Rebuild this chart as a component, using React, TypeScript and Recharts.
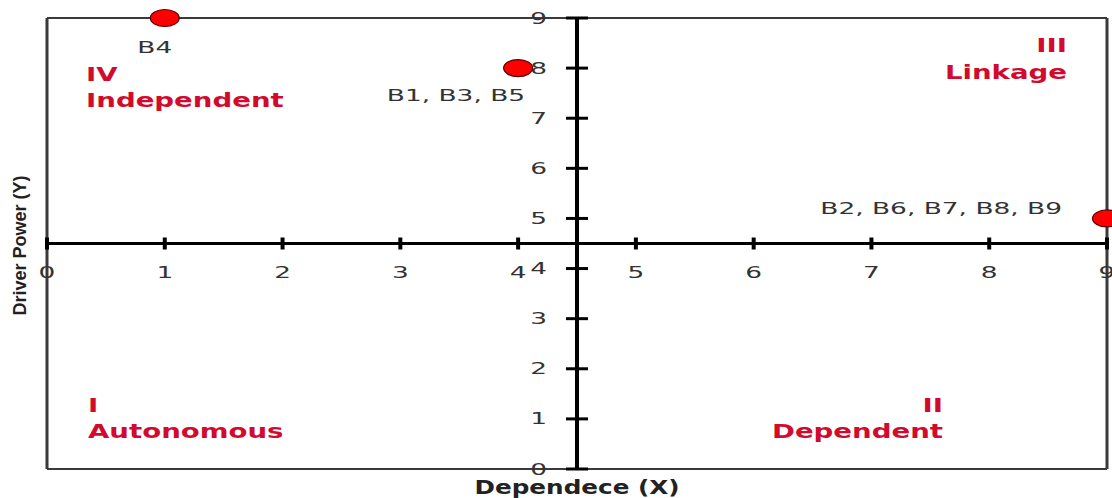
import { ReferenceArea, ReferenceDot, ReferenceLine, Scatter, ScatterChart, XAxis, YAxis } from 'recharts';

const pointLabels = ['B4', 'B1, B3, B5', 'B2, B6, B7, B8, B9'];
const dependence = [1, 4, 9];
const drivingPower = [9, 8, 5];

const axisTicks = [0, 1, 2, 3, 4, 5, 6, 7, 8, 9];
const axisCross = 4.5;

const quadrantNumerals = ['I', 'II', 'III', 'IV'];
const quadrantNames = ['Autonomous', 'Dependent', 'Linkage', 'Independent'];
const quadrantX = [[0, 4.5], [4.5, 9], [4.5, 9], [0, 4.5]];
const quadrantY = [[0, 4.5], [0, 4.5], [4.5, 9], [4.5, 9]];

const points = pointLabels.map((label, i) => ({ x: dependence[i], y: drivingPower[i], label }));

const SANS = 'DejaVu Sans, Verdana, sans-serif';
const INK = '#333';
const RED = '#d20a2e';

// offsets (px) of each point's caption from its marker
const labelPlacement = [
  { dx: -10, dy: 35, anchor: 'middle' },
  { dx: 7, dy: 33, anchor: 'end' },
  { dx: -45, dy: -4, anchor: 'end' },
];

// quadrant captions, measured from the quadrant box edges
const quadrantPlacement = [
  { anchor: 'start', dx: 41, fromTop: false, dy: [-57, -31] },
  { anchor: 'end', dx: -164, fromTop: false, dy: [-57, -31] },
  { anchor: 'end', dx: -40, fromTop: true, dy: [34, 61] },
  { anchor: 'start', dx: 39, fromTop: true, dy: [63, 89] },
];

function WideText({ x, y, children, size = 15, bold = false, anchor = 'middle', stretch = 1.76, color = INK, family = SANS }: any) {
  return (
    <text
      transform={`translate(${x} ${y}) scale(${stretch} 1)`}
      textAnchor={anchor}
      fontSize={size}
      fontWeight={bold ? 700 : 400}
      fontFamily={family}
      fill={color}
    >
      {children}
    </text>
  );
}

function Marker(props: any) {
  const { cx, cy, payload } = props;
  const p = labelPlacement[pointLabels.indexOf(payload.label)];
  return (
    <g>
      <ellipse cx={cx} cy={cy} rx={14.5} ry={8.5} fill="#ff0000" stroke="#5a0000" strokeWidth={1.2} />
      <WideText x={cx + p.dx} y={cy + p.dy} anchor={p.anchor}>
        {payload.label}
      </WideText>
    </g>
  );
}

function XTickMark({ cx, cy, value }: any) {
  return (
    <g>
      <line x1={cx} x2={cx} y1={cy - 6} y2={cy + 6} stroke="#000" strokeWidth={4} />
      <WideText x={cx} y={cy + 34}>{value}</WideText>
    </g>
  );
}

function YTickMark({ cx, cy, value }: any) {
  return (
    <g>
      <line x1={cx - 11} x2={cx + 11} y1={cy} y2={cy} stroke="#000" strokeWidth={3} />
      <WideText x={cx - 30} y={cy + 5.5} anchor="end">{value}</WideText>
    </g>
  );
}

function QuadrantCaption({ viewBox, index }: any) {
  const { x, y, width, height } = viewBox;
  const p = quadrantPlacement[index];
  const left = p.anchor === 'start' ? x + p.dx : x + width + p.dx;
  const base = p.fromTop ? y : y + height;
  return (
    <g>
      <WideText x={left} y={base + p.dy[0]} anchor={p.anchor} size={20} bold stretch={1.38} color={RED}>
        {quadrantNumerals[index]}
      </WideText>
      <WideText x={left} y={base + p.dy[1]} anchor={p.anchor} size={20} bold stretch={1.38} color={RED}>
        {quadrantNames[index]}
      </WideText>
    </g>
  );
}

function XTitle({ viewBox }: any) {
  const { x, y, width } = viewBox;
  return (
    <WideText x={x + width / 2} y={y + 25} size={19} bold stretch={1.3} color="#222">
      Dependece (X)
    </WideText>
  );
}

function YTitle({ viewBox }: any) {
  const { x, y, height } = viewBox;
  const cx = x + 26;
  const cy = y + height / 2 + 2;
  return (
    <text
      x={cx}
      y={cy}
      transform={`rotate(-90 ${cx} ${cy})`}
      textAnchor="middle"
      fontSize={18}
      fontWeight={700}
      fontFamily="Liberation Sans, Arial, sans-serif"
      fill="#222"
    >
      Driver Power (Y)
    </text>
  );
}

export default function App() {
  return (
    <div style={{ position: 'absolute', left: 0, top: 0, background: '#fff' }}>
      <ScatterChart width={1112} height={498} margin={{ top: 18, right: 5, bottom: 0, left: 0 }}>
        <XAxis
          type="number"
          dataKey="x"
          domain={[0, 9]}
          ticks={axisTicks}
          height={29}
          tick={false}
          axisLine={false}
          tickLine={false}
          label={<XTitle />}
        />
        <YAxis
          type="number"
          dataKey="y"
          domain={[0, 9]}
          ticks={axisTicks}
          width={47}
          tick={false}
          axisLine={false}
          tickLine={false}
          label={<YTitle />}
        />

        {quadrantNames.map((name, i) => (
          <ReferenceArea
            key={name}
            x1={quadrantX[i][0]}
            x2={quadrantX[i][1]}
            y1={quadrantY[i][0]}
            y2={quadrantY[i][1]}
            fillOpacity={0}
            strokeOpacity={0}
            label={<QuadrantCaption index={i} />}
          />
        ))}

        {/* plot frame */}
        <ReferenceLine x={0} stroke="#3a3a3a" strokeWidth={3} />
        <ReferenceLine x={9} stroke="#3a3a3a" strokeWidth={3} />
        <ReferenceLine y={0} stroke="#3a3a3a" strokeWidth={2} />
        <ReferenceLine y={9} stroke="#3a3a3a" strokeWidth={2} />

        {/* axes crossing in the middle */}
        <ReferenceLine x={axisCross} stroke="#000" strokeWidth={4} />
        <ReferenceLine y={axisCross} stroke="#000" strokeWidth={3} />

        {axisTicks.map((t) => (
          <ReferenceDot key={`x${t}`} x={t} y={axisCross} shape={(p: any) => <XTickMark {...p} value={t} />} />
        ))}
        {axisTicks.map((t) => (
          <ReferenceDot key={`y${t}`} x={axisCross} y={t} shape={(p: any) => <YTickMark {...p} value={t} />} />
        ))}

        <Scatter data={points} shape={<Marker />} isAnimationActive={false} />
      </ScatterChart>
    </div>
  );
}
